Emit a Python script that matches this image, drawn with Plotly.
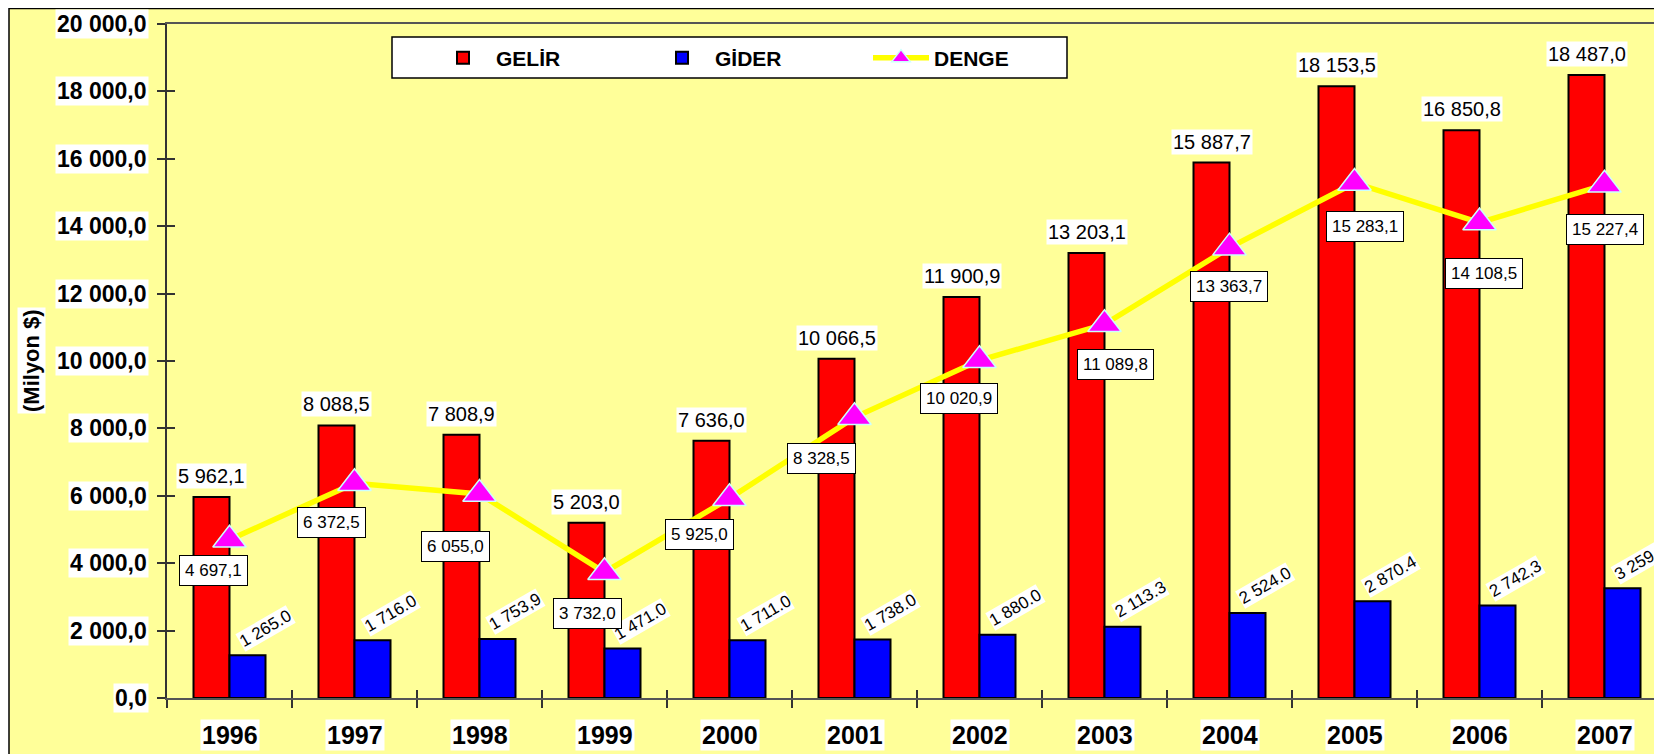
import plotly.graph_objects as go

# ---------------- data ----------------
years = ["1996", "1997", "1998", "1999", "2000", "2001", "2002", "2003", "2004", "2005", "2006", "2007"]
gelir = [5962.1, 8088.5, 7808.9, 5203.0, 7636.0, 10066.5, 11900.9, 13203.1, 15887.7, 18153.5, 16850.8, 18487.0]
gider = [1265.0, 1716.0, 1753.9, 1471.0, 1711.0, 1738.0, 1880.0, 2113.3, 2524.0, 2870.4, 2742.3, 3259.6]
denge = [4697.1, 6372.5, 6055.0, 3732.0, 5925.0, 8328.5, 10020.9, 11089.8, 13363.7, 15283.1, 14108.5, 15227.4]
gider_labels = ["1 265.0", "1 716.0", "1 753,9", "1 471.0", "1 711.0", "1 738.0",
                "1 880.0", "2 113.3", "2 524.0", "2 870.4", "2 742,3", "3 259,6"]
y_ticks = [0, 2000, 4000, 6000, 8000, 10000, 12000, 14000, 16000, 18000, 20000]
series_names = ["GELİR", "GİDER", "DENGE"]

# label offsets (pixels) for the boxed DENGE labels
denge_dx = [-16, -23, -24, -17, -30, -33, -21, 11, -1, 10, 4, 0]
denge_dy = [31, 39, 53, 41, 36, 41, 38, 40, 39, 44, 51, 45]


def fmt(v, dec=","):
    s = f"{v:,.1f}"
    return s.replace(",", " ").replace(".", dec)


# the page body adds an 8px margin; positions below are page pixels minus this
O = 8
W, H = 1662, 754
ML, MT = 167 - O, 24 - O
MB = H - (698 - O)
MR = O
PW, PH = W - ML - MR, H - MT - MB
cat_px = 125.0
x_max = -0.5 + PW / cat_px
bargap = 0.424
half = (1 - bargap) / 4.0  # offset of each bar centre from category centre

xs = list(range(len(years)))

fig = go.Figure()
fig.add_trace(go.Bar(x=xs, y=gelir, name=series_names[0],
                     marker=dict(color="#FF0000", line=dict(color="#000000", width=2))))
fig.add_trace(go.Bar(x=xs, y=gider, name=series_names[1],
                     marker=dict(color="#0000FF", line=dict(color="#000000", width=2))))
fig.add_trace(go.Scatter(x=xs, y=denge, name=series_names[2], mode="lines+markers",
                         line=dict(color="#FFFF00", width=5.5),
                         marker=dict(symbol="triangle-up", size=29, color="#FF00FF",
                                     line=dict(color="#CCFFFF", width=1.5))))
# helper trace for the overlay axes (inner half of crossing ticks)
fig.add_trace(go.Scatter(x=[None], y=[None], xaxis="x2", yaxis="y2", showlegend=False,
                         hoverinfo="skip"))

FONT = "Arial, Liberation Sans"
ann = []
# y tick labels with white background
for t in y_ticks:
    ann.append(dict(x=0, xref="paper", y=t, yref="y", xanchor="right", yanchor="middle",
                    xshift=-18, text=fmt(t), showarrow=False, bgcolor="#FFFFFF", borderpad=1,
                    font=dict(family=FONT, size=23, color="#000000", weight="bold")))
# x category labels
for i, yr in enumerate(years):
    ann.append(dict(x=i, xref="x", y=0, yref="y", xanchor="center", yanchor="top",
                    yshift=-21, text=yr, showarrow=False, bgcolor="#FFFFFF", borderpad=1,
                    font=dict(family=FONT, size=25, color="#000000", weight="bold")))
# GELIR labels
for i, v in enumerate(gelir):
    ann.append(dict(x=i - half, y=v, xanchor="center", yanchor="middle", yshift=21,
                    text=fmt(v), showarrow=False, bgcolor="#FFFFFF", borderpad=1,
                    font=dict(family=FONT, size=20, color="#000000")))
# GIDER labels (rotated)
for i, v in enumerate(gider):
    ann.append(dict(x=i + half, y=v, xanchor="center", yanchor="middle", xshift=18, yshift=27,
                    textangle=-30, text=gider_labels[i], showarrow=False, bgcolor="#FFFFFF",
                    borderpad=0, font=dict(family=FONT, size=17, color="#000000")))
# DENGE labels (boxed)
for i, v in enumerate(denge):
    ann.append(dict(x=i, y=v, xanchor="center", yanchor="middle", xshift=denge_dx[i],
                    yshift=-denge_dy[i], text=fmt(v), showarrow=False, bgcolor="#FFFFFF",
                    bordercolor="#000000", borderwidth=1, borderpad=5,
                    font=dict(family=FONT, size=17, color="#000000")))


def px_x(p):
    return (p - O - ML) / PW


def px_y(p):
    return (H - MB - (p - O)) / PH


# axis title
ann.append(dict(x=px_x(31), xref="paper", y=px_y(361), yref="paper", xanchor="center",
                yanchor="middle", textangle=-90, text="(Milyon $)", showarrow=False,
                bgcolor="#FFFFFF", borderpad=1,
                font=dict(family=FONT, size=22, color="#000000", weight="bold")))

shapes = [
    # chart area background with frame
    dict(type="rect", xref="paper", yref="paper", x0=px_x(9), x1=px_x(1720), y0=px_y(820),
         y1=px_y(8.5), fillcolor="#FFFF99", line=dict(color="#000000", width=1.5), layer="below"),
    # legend box
    dict(type="rect", xref="paper", yref="paper", x0=px_x(392), x1=px_x(1067), y0=px_y(78),
         y1=px_y(37), fillcolor="#FFFFFF", line=dict(color="#000000", width=1.5), layer="below"),
]

tick_vals_x = [i - 0.5 for i in range(len(years) + 1)]

fig.update_layout(
    width=W, height=H,
    margin=dict(l=ML, r=MR, t=MT, b=MB, pad=0),
    paper_bgcolor="#FFFFFF",
    plot_bgcolor="rgba(0,0,0,0)",
    barmode="group", bargap=bargap, bargroupgap=0,
    font=dict(family=FONT, color="#000000"),
    xaxis=dict(range=[-0.5, x_max], tickvals=tick_vals_x, showticklabels=False,
               ticks="outside", ticklen=8, tickwidth=1.5, tickcolor="#333333",
               showgrid=False, zeroline=False, showline=True, linecolor="#555555",
               linewidth=2, mirror=True),
    yaxis=dict(range=[0, 20000], tickvals=y_ticks, showticklabels=False,
               ticks="outside", ticklen=8, tickwidth=1.5, tickcolor="#333333",
               showgrid=False, zeroline=False, showline=True, linecolor="#333333",
               linewidth=2),
    xaxis2=dict(range=[-0.5, x_max], tickvals=tick_vals_x, showticklabels=False,
                ticks="inside", ticklen=8, tickwidth=1.5, tickcolor="#333333",
                showgrid=False, zeroline=False, showline=False, overlaying="x", anchor="y2"),
    yaxis2=dict(range=[0, 20000], tickvals=y_ticks, showticklabels=False,
                ticks="inside", ticklen=8, tickwidth=1.5, tickcolor="#333333",
                showgrid=False, zeroline=False, showline=False, overlaying="y", anchor="x2",
                side="left"),
    legend=dict(orientation="h", x=px_x(430), xanchor="left", y=px_y(58), yanchor="middle",
                bgcolor="rgba(0,0,0,0)", borderwidth=0, itemwidth=56,
                entrywidth=148, entrywidthmode="pixels", traceorder="normal",
                font=dict(family=FONT, size=21, color="#000000", weight="bold")),
    showlegend=True,
    annotations=ann,
    shapes=shapes,
)

fig.write_html("out.html")
